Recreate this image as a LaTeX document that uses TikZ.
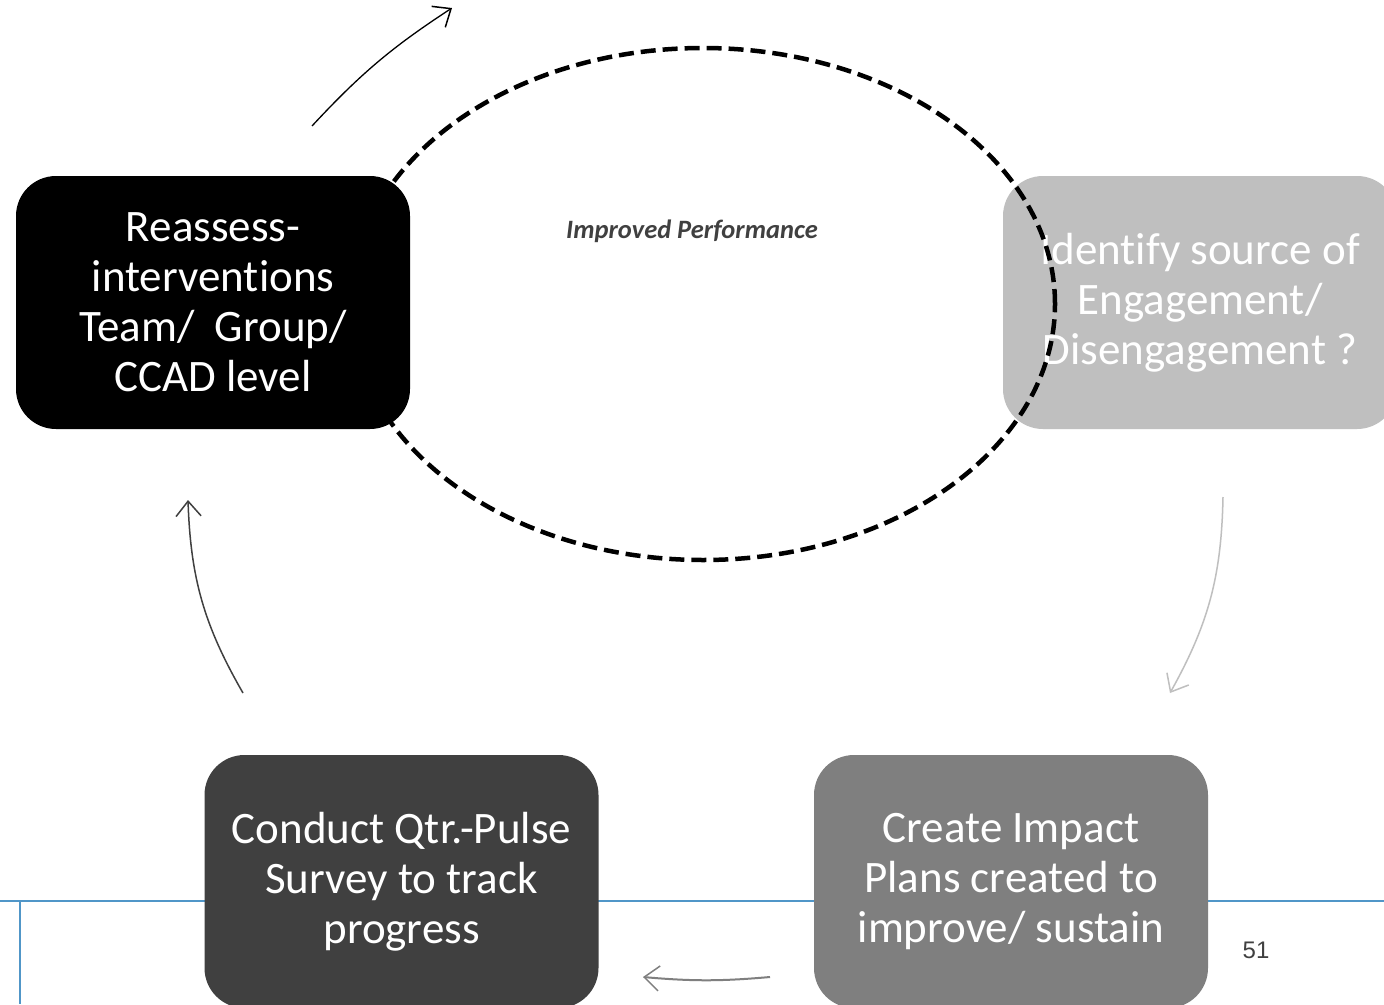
\documentclass[tikz,border=0pt]{standalone}
\usepackage{fontspec}
\setmainfont[Ligatures={NoCommon}]{Carlito}
\newfontfamily\numfont{Liberation Sans}
\usetikzlibrary{arrows.meta,shapes.geometric}
\definecolor{rule}{RGB}{80,150,200}
\definecolor{boxA}{RGB}{0,0,0}
\definecolor{boxB}{RGB}{191,191,191}
\definecolor{boxC}{RGB}{127,127,127}
\definecolor{boxD}{RGB}{64,64,64}
\tikzset{
  stage/.style={rounded corners=40pt, minimum width=394pt, minimum height=253pt,
    inner sep=0pt, align=center, text=white,
    font=\fontsize{45}{50}\selectfont},
  flow/.style={line width=1.5pt, -{Straight Barb[length=15pt,width=25pt,line width=1.5pt]}},
  loop/.style={draw=black, line width=4.5pt, dash pattern=on 15pt off 7pt}
}
\begin{document}
\begin{tikzpicture}[x=1pt,y=-1pt]
\clip (0,0) rectangle (1384,1004);
\fill[white] (0,0) rectangle (1384,1004);

% slide rules
\coordinate (ruleL) at (0,901);
\coordinate (ruleR) at (1384,901);
\coordinate (ruleT) at (20,901);
\coordinate (ruleB) at (20,1004);
\draw[rule, line width=2pt] (ruleL) -- (ruleR);
\draw[rule, line width=2pt] (ruleT) -- (ruleB);

% right stage sits beneath the dashed loop
\node[stage, fill=boxB] (identify) at (1200,302.5)
  {Identify source of\\Engagement/\\Disengagement ?};

% dashed performance loop
\node[loop, ellipse, minimum width=704pt, minimum height=512pt, inner sep=0pt] (perf) at (703,304) {};
\node[font=\fontsize{26.5}{30}\selectfont\bfseries\itshape, text=boxD] (perflabel) at (692,231) {Improved Performance};

% remaining stages
\node[stage, fill=boxA] (reassess) at (213,302.5)
  {Reassess-\\interventions\\Team/\ \ Group/\\CCAD level};
\node[stage, fill=boxC] (create) at (1011,881.5)
  {Create Impact\\Plans created to\\improve/ sustain};
\node[stage, fill=boxD] (conduct) at (401.5,881.5)
  {Conduct Qtr.-Pulse\\Survey to track\\progress};

% cycle arrows
\coordinate (a1s) at (312,126);  \coordinate (a1e) at (452,8);
\coordinate (a2s) at (1223,497); \coordinate (a2e) at (1170,693);
\coordinate (a3s) at (770,977);  \coordinate (a3e) at (643,977);
\coordinate (a4s) at (243,693);  \coordinate (a4e) at (188,500);
\draw[flow, black, line width=1.3pt] (a1s) to[bend left=7] (a1e);
\draw[flow, boxB] (a2s) to[bend left=14] (a2e);
\draw[flow, boxC, line width=2pt] (a3s) to[bend left=5] (a3e);
\draw[flow, boxD] (a4s) to[bend left=14] (a4e);

% page number
\node[font=\numfont\fontsize{24}{28}\selectfont, text=boxD] (page) at (1256,950) {51};
\end{tikzpicture}
\end{document}
